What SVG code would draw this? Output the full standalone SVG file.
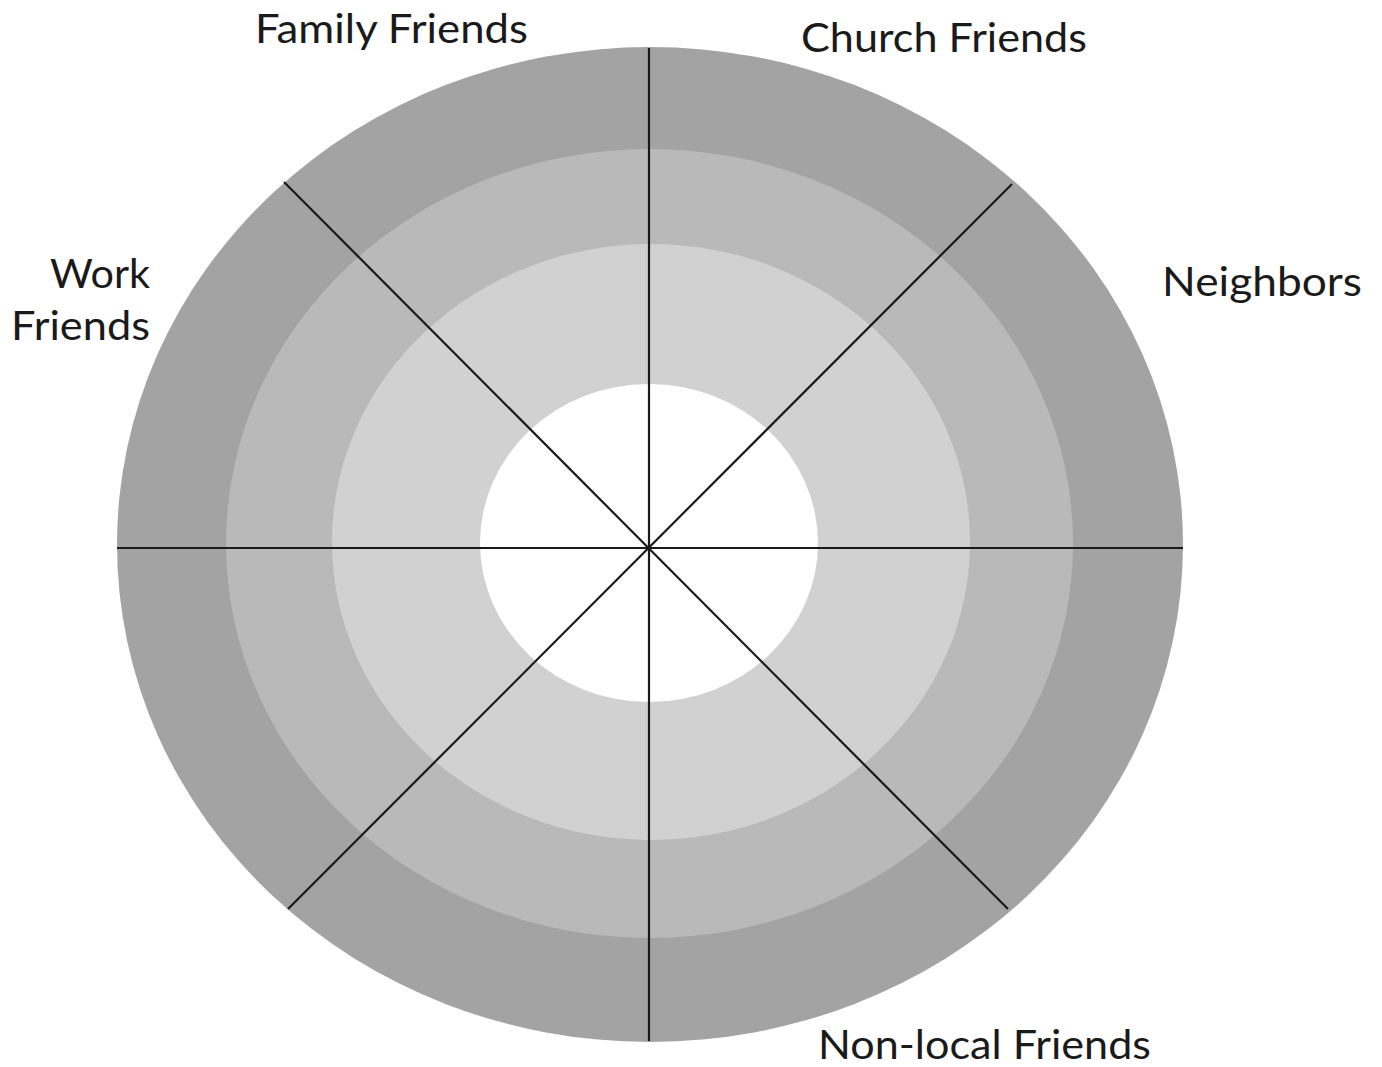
<svg xmlns="http://www.w3.org/2000/svg" width="1382" height="1067" viewBox="0 0 1382 1067">
<style>
.lbl{font-family:Lato,"Open Sans","Liberation Sans",sans-serif;font-size:41px;fill:#1a1a1a}
.ln{stroke:#1a1a1a;stroke-width:2.2;fill:none}
</style>
<rect width="1382" height="1067" fill="#ffffff"/>
<g id="rings">
<ellipse id="ring1" cx="650" cy="544.5" rx="533" ry="497.5" fill="#a3a3a3"/>
<ellipse id="ring2" cx="649.5" cy="543.5" rx="423.5" ry="394.5" fill="#b9b9b9"/>
<ellipse id="ring3" cx="651" cy="542" rx="319" ry="298" fill="#d1d1d1"/>
<ellipse id="ring4" cx="649" cy="543" rx="169" ry="159" fill="#ffffff"/>
</g>
<g id="connectors">
<line class="ln" x1="649" y1="48" x2="649" y2="1041"/>
<line class="ln" x1="117" y1="548" x2="1183" y2="548"/>
<line class="ln" x1="284" y1="182" x2="1008" y2="909"/>
<line class="ln" x1="1012" y1="184" x2="288" y2="909"/>
</g>
<g id="label-family"><text class="lbl" x="255" y="43" textLength="273" lengthAdjust="spacingAndGlyphs">Family Friends</text></g>
<g id="label-church"><text class="lbl" x="801" y="52" textLength="286" lengthAdjust="spacingAndGlyphs">Church Friends</text></g>
<g id="label-neighbors"><text class="lbl" x="1162" y="296" textLength="200" lengthAdjust="spacingAndGlyphs">Neighbors</text></g>
<g id="label-work"><text class="lbl" x="50" y="288" textLength="100" lengthAdjust="spacingAndGlyphs">Work</text><text class="lbl" x="11" y="340" textLength="139" lengthAdjust="spacingAndGlyphs">Friends</text></g>
<g id="label-nonlocal"><text class="lbl" x="818" y="1059" textLength="333" lengthAdjust="spacingAndGlyphs">Non-local Friends</text></g>
</svg>
